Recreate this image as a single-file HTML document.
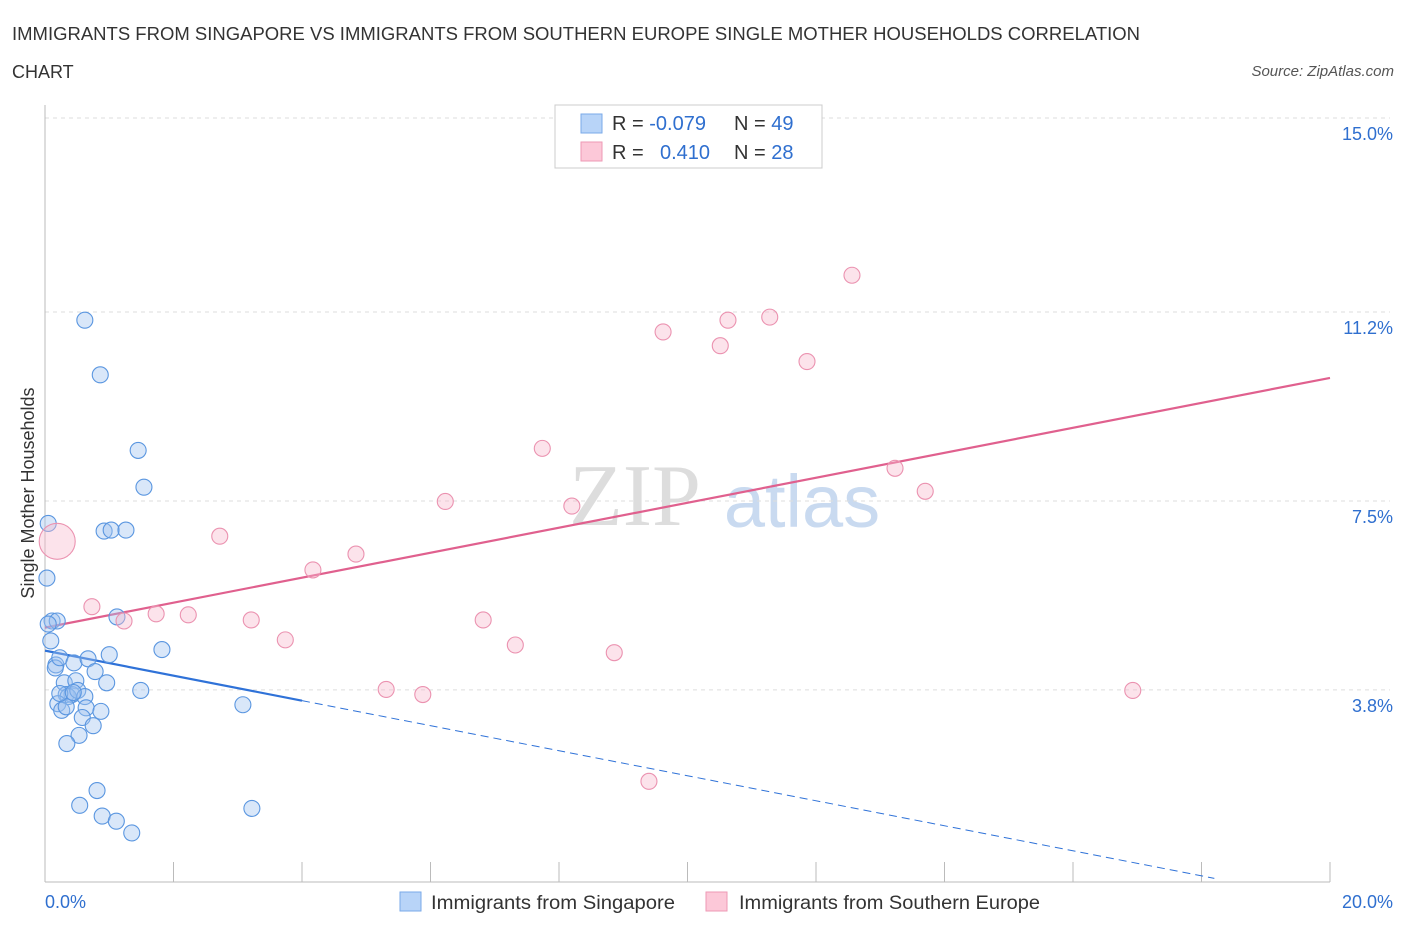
<!DOCTYPE html>
<html><head><meta charset="utf-8"><style>
body{margin:0;background:#fff;font-family:"Liberation Sans",sans-serif;}
svg{display:block}
</style></head><body>
<svg id="chart" width="1406" height="930" xmlns="http://www.w3.org/2000/svg">
<text x="12" y="40" font-size="18" fill="#333" textLength="1128" lengthAdjust="spacingAndGlyphs">IMMIGRANTS FROM SINGAPORE VS IMMIGRANTS FROM SOUTHERN EUROPE SINGLE MOTHER HOUSEHOLDS CORRELATION</text>
<text x="12" y="78" font-size="18" fill="#333">CHART</text>
<text x="1394" y="76" font-size="15" font-style="italic" fill="#555" text-anchor="end">Source: ZipAtlas.com</text>
<text transform="translate(34,493) rotate(-90)" font-size="18" fill="#333" text-anchor="middle">Single Mother Households</text>
<g>
<text x="635" y="525" font-size="88" font-family="Liberation Serif,serif" fill="#ddd" text-anchor="middle">ZIP</text>
<text x="802" y="527" font-size="74" fill="#c9daf0" text-anchor="middle">atlas</text>
</g>
<g id="grid"></g><g id="axes"></g><g id="trend"></g><g id="pts"></g>
<g>
<rect x="555" y="105" width="267" height="63" fill="#fff" stroke="#ccc"/>
<rect x="581" y="114" width="21" height="19" fill="#b8d4f8" stroke="#7aaae8"/>
<rect x="581" y="142" width="21" height="19" fill="#fcc8d8" stroke="#ee99b5"/>
<text x="612" y="130" font-size="20" fill="#333">R = <tspan fill="#2f6fcf">-0.079</tspan></text>
<text x="734" y="130" font-size="20" fill="#333">N = <tspan fill="#2f6fcf">49</tspan></text>
<text x="612" y="159" font-size="20" fill="#333">R = <tspan fill="#2f6fcf" x="660">0.410</tspan></text>
<text x="734" y="159" font-size="20" fill="#333">N = <tspan fill="#2f6fcf">28</tspan></text>
</g>
<g>
<rect x="400" y="892" width="21" height="19" fill="#b8d4f8" stroke="#7aaae8"/>
<text x="431" y="909" font-size="19" fill="#333" textLength="244" lengthAdjust="spacingAndGlyphs">Immigrants from Singapore</text>
<rect x="706" y="892" width="21" height="19" fill="#fcc8d8" stroke="#ee99b5"/>
<text x="739" y="909" font-size="19" fill="#333" textLength="301" lengthAdjust="spacingAndGlyphs">Immigrants from Southern Europe</text>
</g>
</svg>
<script>
const blueX=[0.62,0.86,1.45,1.54,0.92,1.03,1.26,0.05,0.03,0.11,0.19,0.05,0.09,1.12,1.82,0.17,0.16,0.23,0.45,0.67,1.00,0.30,0.48,0.78,0.96,0.33,0.42,0.36,0.51,0.62,1.49,0.20,0.26,0.64,0.87,0.33,0.58,0.75,0.53,0.34,3.08,0.81,0.54,0.89,1.11,1.35,3.22,0.23,0.44];
const blueY=[11.04,9.97,8.49,7.77,6.91,6.93,6.93,7.06,5.99,5.15,5.15,5.09,4.76,5.23,4.59,4.29,4.23,4.43,4.33,4.41,4.49,3.94,3.98,4.16,3.94,3.71,3.71,3.67,3.79,3.67,3.79,3.53,3.40,3.45,3.38,3.47,3.26,3.10,2.91,2.75,3.51,1.83,1.54,1.33,1.23,1.00,1.48,3.73,3.75];
const pinkX=[0.19,0.73,1.23,1.73,2.23,2.72,3.21,3.74,4.17,4.84,5.31,5.88,6.23,6.82,7.32,7.74,8.20,8.86,9.40,9.62,10.51,10.63,11.28,11.86,12.56,13.23,13.70,16.93];
const pinkY=[6.71,5.43,5.15,5.29,5.27,6.81,5.17,4.78,6.15,6.46,3.81,3.71,7.49,5.17,4.68,8.53,7.40,4.53,2.01,10.81,10.54,11.04,11.10,10.23,11.92,8.14,7.69,3.79];
const yTicks=[15.0,11.2,7.5,3.8];
const yTickLabels=["15.0%","11.2%","7.5%","3.8%"];
const blueTrend=[4.57,-0.245];
const pinkTrend=[5.02,0.2445];
const NS="http://www.w3.org/2000/svg";
const X=v=>45+v*64.25, Y=v=>884-v*51.07;
function mk(parent,tag,attrs){const e=document.createElementNS(NS,tag);for(const k in attrs)e.setAttribute(k,attrs[k]);document.getElementById(parent).appendChild(e);return e;}
yTicks.forEach((t,i)=>{
 let l=mk('grid','line',{x1:45,x2:1390,y1:Y(t),y2:Y(t),stroke:'#ddd','stroke-dasharray':'4,4'});
 
 
 let tx=mk('grid','text',{x:1393,y:Y(t)+22,'font-size':18,fill:'#2f6fcf','text-anchor':'end'});
 tx.textContent=yTickLabels[i];
 
 
});
let ax=mk('axes','line',{x1:45,x2:1330,y1:882,y2:882,stroke:'#bbb'});


let ay=mk('axes','line',{x1:45,x2:45,y1:105,y2:882,stroke:'#bbb'});


for(let v=0;v<=20;v+=2){let t=mk('axes','line',{x1:X(v),x2:X(v),y1:862,y2:882,stroke:'#bbb'});
 
 }
let xl=mk('axes','text',{x:45,y:908,'font-size':18,fill:'#2f6fcf'});xl.textContent='0.0%';


let xr=mk('axes','text',{x:1393,y:908,'font-size':18,fill:'#2f6fcf','text-anchor':'end'});xr.textContent='20.0%';


blueX.forEach((x,i)=>{let c=mk('pts','circle',{cx:X(x),cy:Y(blueY[i]),r:8,fill:'rgba(160,196,240,0.4)',stroke:'#5a96e0','stroke-width':1.1});
 
 });
pinkX.forEach((x,i)=>{let c=mk('pts','circle',{cx:X(x),cy:Y(pinkY[i]),r:i===0?18:8,fill:'rgba(248,185,205,0.4)',stroke:'#eb92b0','stroke-width':1.1});
 
 });
const bt=v=>blueTrend[0]+blueTrend[1]*v, pt=v=>pinkTrend[0]+pinkTrend[1]*v;
let b1=mk('trend','line',{x1:X(0),y1:Y(bt(0)),x2:X(4),y2:Y(bt(4)),stroke:'#2f72d8','stroke-width':2.2});


let b2=mk('trend','line',{x1:X(4),y1:Y(bt(4)),x2:X(18.2),y2:Y(bt(18.2)),stroke:'#2f72d8','stroke-width':1,'stroke-dasharray':'8,5'});


let p1=mk('trend','line',{x1:X(0),y1:Y(pt(0)),x2:X(20),y2:Y(pt(20)),stroke:'#e0608e','stroke-width':2.2});


</script>
</body></html>
